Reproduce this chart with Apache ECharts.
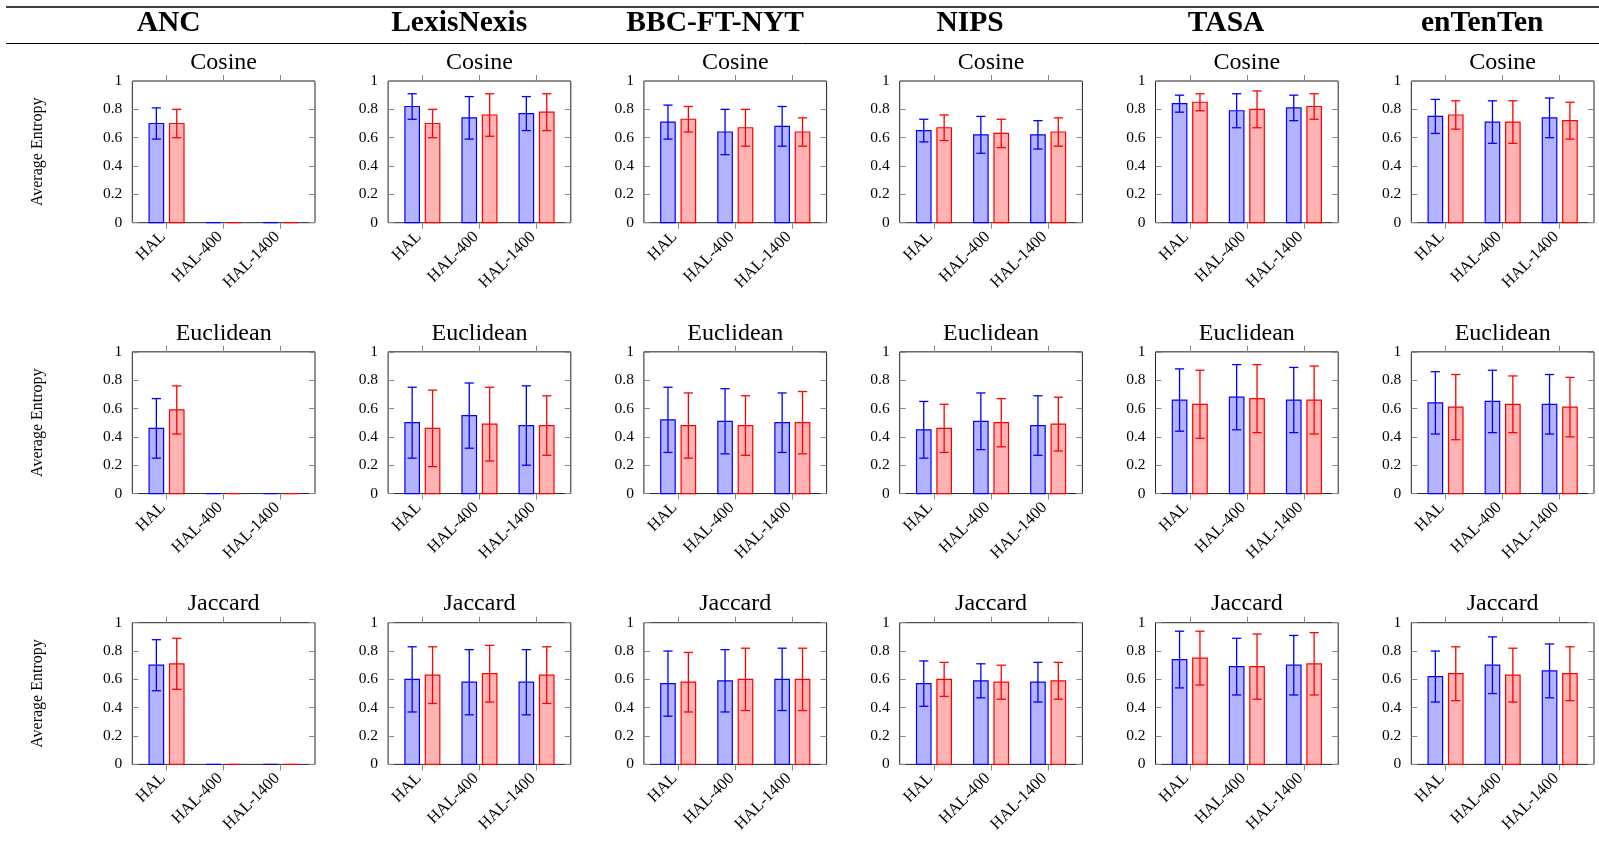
<!DOCTYPE html>
<html>
<head>
<meta charset="utf-8">
<script src="https://cdn.jsdelivr.net/npm/echarts@6/dist/echarts.min.js"></script>
<style>
html,body{margin:0;padding:0;background:#fff;}
#chart{width:1599px;height:856px;}
</style>
</head>
<body>
<div id="chart"></div>
<script>
// ---------------- data ----------------
const datasets = ['ANC', 'LexisNexis', 'BBC-FT-NYT', 'NIPS', 'TASA', 'enTenTen'];
const metrics = ['Cosine', 'Euclidean', 'Jaccard'];
const categories = ['HAL', 'HAL-400', 'HAL-1400'];
const yTicks = [0, 0.2, 0.4, 0.6, 0.8, 1];
const yTitle = 'Average Entropy';

// rows: datasets, columns: categories
const cosineBlue = [[0.70,0,0],[0.82,0.74,0.77],[0.71,0.64,0.68],[0.65,0.62,0.62],[0.84,0.79,0.81],[0.75,0.71,0.74]];
const cosineBlueErr = [[0.11,0,0],[0.09,0.15,0.12],[0.12,0.16,0.14],[0.08,0.13,0.10],[0.06,0.12,0.09],[0.12,0.15,0.14]];
const cosineRed = [[0.70,0,0],[0.70,0.76,0.78],[0.73,0.67,0.64],[0.67,0.63,0.64],[0.85,0.80,0.82],[0.76,0.71,0.72]];
const cosineRedErr = [[0.10,0,0],[0.10,0.15,0.13],[0.09,0.13,0.10],[0.09,0.10,0.10],[0.06,0.13,0.09],[0.10,0.15,0.13]];

const euclidBlue = [[0.46,0,0],[0.50,0.55,0.48],[0.52,0.51,0.50],[0.45,0.51,0.48],[0.66,0.68,0.66],[0.64,0.65,0.63]];
const euclidBlueErr = [[0.21,0,0],[0.25,0.23,0.28],[0.23,0.23,0.21],[0.20,0.20,0.21],[0.22,0.23,0.23],[0.22,0.22,0.21]];
const euclidRed = [[0.59,0,0],[0.46,0.49,0.48],[0.48,0.48,0.50],[0.46,0.50,0.49],[0.63,0.67,0.66],[0.61,0.63,0.61]];
const euclidRedErr = [[0.17,0,0],[0.27,0.26,0.21],[0.23,0.21,0.22],[0.17,0.17,0.19],[0.24,0.24,0.24],[0.23,0.20,0.21]];

const jaccardBlue = [[0.70,0,0],[0.60,0.58,0.58],[0.57,0.59,0.60],[0.57,0.59,0.58],[0.74,0.69,0.70],[0.62,0.70,0.66]];
const jaccardBlueErr = [[0.18,0,0],[0.23,0.23,0.23],[0.23,0.22,0.22],[0.16,0.12,0.14],[0.20,0.20,0.21],[0.18,0.20,0.19]];
const jaccardRed = [[0.71,0,0],[0.63,0.64,0.63],[0.58,0.60,0.60],[0.60,0.58,0.59],[0.75,0.69,0.71],[0.64,0.63,0.64]];
const jaccardRedErr = [[0.18,0,0],[0.20,0.20,0.20],[0.21,0.22,0.22],[0.12,0.12,0.13],[0.19,0.23,0.22],[0.19,0.19,0.19]];

const metricBlue = [cosineBlue, euclidBlue, jaccardBlue];
const metricBlueErr = [cosineBlueErr, euclidBlueErr, jaccardBlueErr];
const metricRed = [cosineRed, euclidRed, jaccardRed];
const metricRedErr = [cosineRedErr, euclidRedErr, jaccardRedErr];

// ---------------- layout ----------------
const FONT = '"Liberation Serif", "DejaVu Serif", serif';
const GRID_LEFT0 = 132.3, COL_STEP = 255.8, GRID_W = 182.7;
const GRID_TOP0 = 81, ROW_STEP = 270.85, GRID_H = 141.7;
const HEADER_X = [168.7, 459.2, 715.1, 970.1, 1226.1, 1482.2];
const BAR_W = 14.5, BAR_OFF = 10.2, CAP = 4.6;
const TICK_COLOR = '#888';

function makeRender(stroke, fill, offset) {
  return function (params, api) {
    const cat = api.value(0), v = api.value(1), e = api.value(2);
    const base = api.coord([cat, 0]);
    const top = api.coord([cat, v]);
    const cx = base[0] + offset;
    const children = [{
      type: 'rect',
      shape: { x: cx - BAR_W / 2, y: top[1], width: BAR_W, height: base[1] - top[1] },
      style: { fill: fill, stroke: stroke, lineWidth: 1.2 }
    }];
    if (e > 0) {
      const hi = api.coord([cat, v + e])[1];
      const lo = api.coord([cat, v - e])[1];
      const ls = { stroke: stroke, lineWidth: 1.3 };
      children.push({ type: 'line', shape: { x1: cx, y1: hi, x2: cx, y2: lo }, style: ls });
      children.push({ type: 'line', shape: { x1: cx - CAP, y1: hi, x2: cx + CAP, y2: hi }, style: ls });
      children.push({ type: 'line', shape: { x1: cx - CAP, y1: lo, x2: cx + CAP, y2: lo }, style: ls });
    }
    return { type: 'group', children: children };
  };
}

const grids = [], xAxes = [], yAxes = [], series = [], graphics = [];

// table rules
graphics.push({ type: 'line', shape: { x1: 6, y1: 7, x2: 1599, y2: 7 }, style: { stroke: '#000', lineWidth: 1.3 } });
graphics.push({ type: 'line', shape: { x1: 6, y1: 43.5, x2: 1599, y2: 43.5 }, style: { stroke: '#000', lineWidth: 1 } });

datasets.forEach(function (name, c) {
  graphics.push({
    type: 'text', x: HEADER_X[c], y: 23.5,
    style: { text: name, font: 'bold 29.5px ' + FONT, fill: '#000', align: 'center', verticalAlign: 'middle' }
  });
});

metrics.forEach(function (metric, r) {
  const top = GRID_TOP0 + r * ROW_STEP;
  graphics.push({
    type: 'text', x: 38, y: top + GRID_H / 2, rotation: Math.PI / 2,
    style: { text: yTitle, font: '16px ' + FONT, fill: '#000', align: 'center', verticalAlign: 'middle' }
  });
  datasets.forEach(function (name, c) {
    const g = grids.length;
    const left = GRID_LEFT0 + c * COL_STEP;
    grids.push({ left: left, top: top, width: GRID_W, height: GRID_H, show: true, borderColor: '#222', borderWidth: 1, backgroundColor: 'transparent' });
    graphics.push({
      type: 'text', x: left + GRID_W / 2, y: top - 18.5,
      style: { text: metric, font: '24px ' + FONT, fill: '#000', align: 'center', verticalAlign: 'middle' }
    });
    const xBase = {
      type: 'value', gridIndex: g, min: -0.6, max: 2.6,
      axisLine: { show: false, onZero: false }, splitLine: { show: false },
      axisTick: { show: true, inside: false, length: 6, customValues: [0, 1, 2], lineStyle: { color: TICK_COLOR, width: 1 } }
    };
    xAxes.push(Object.assign({}, xBase, {
      position: 'bottom',
      axisLabel: {
        show: true, customValues: [0, 1, 2], rotate: 45, margin: 8, padding: [0, 5, 0, 0],
        fontFamily: FONT, fontSize: 16.5, color: '#000',
        formatter: function (v) { return categories[Math.round(v)]; }
      }
    }));
    xAxes.push(Object.assign({}, xBase, { position: 'top', axisLabel: { show: false } }));
    const yBase = {
      type: 'value', gridIndex: g, min: 0, max: 1, interval: 0.2,
      axisLine: { show: false, onZero: false }, splitLine: { show: false },
      axisTick: { show: true, inside: true, length: 6, lineStyle: { color: TICK_COLOR, width: 1 } }
    };
    yAxes.push(Object.assign({}, yBase, {
      position: 'left',
      axisLabel: { show: true, margin: 10, fontFamily: FONT, fontSize: 15.5, color: '#000' }
    }));
    yAxes.push(Object.assign({}, yBase, { position: 'right', axisLabel: { show: false } }));

    const blue = metricBlue[r][c], blueErr = metricBlueErr[r][c];
    const red = metricRed[r][c], redErr = metricRedErr[r][c];
    series.push({
      type: 'custom', xAxisIndex: g * 2, yAxisIndex: g * 2, coordinateSystem: 'cartesian2d',
      renderItem: makeRender('#0000ff', '#b3b3ff', -BAR_OFF),
      encode: { x: 0, y: 1 }, silent: true, animation: false,
      data: categories.map(function (cat, i) { return [i, blue[i], blueErr[i]]; })
    });
    series.push({
      type: 'custom', xAxisIndex: g * 2, yAxisIndex: g * 2, coordinateSystem: 'cartesian2d',
      renderItem: makeRender('#ff0000', '#ffb3b3', BAR_OFF),
      encode: { x: 0, y: 1 }, silent: true, animation: false,
      data: categories.map(function (cat, i) { return [i, red[i], redErr[i]]; })
    });
  });
});

const chart = echarts.init(document.getElementById('chart'), null, { renderer: 'canvas' });
chart.setOption({
  animation: false,
  backgroundColor: '#fff',
  grid: grids,
  xAxis: xAxes,
  yAxis: yAxes,
  series: series,
  graphic: graphics
});
</script>
</body>
</html>
